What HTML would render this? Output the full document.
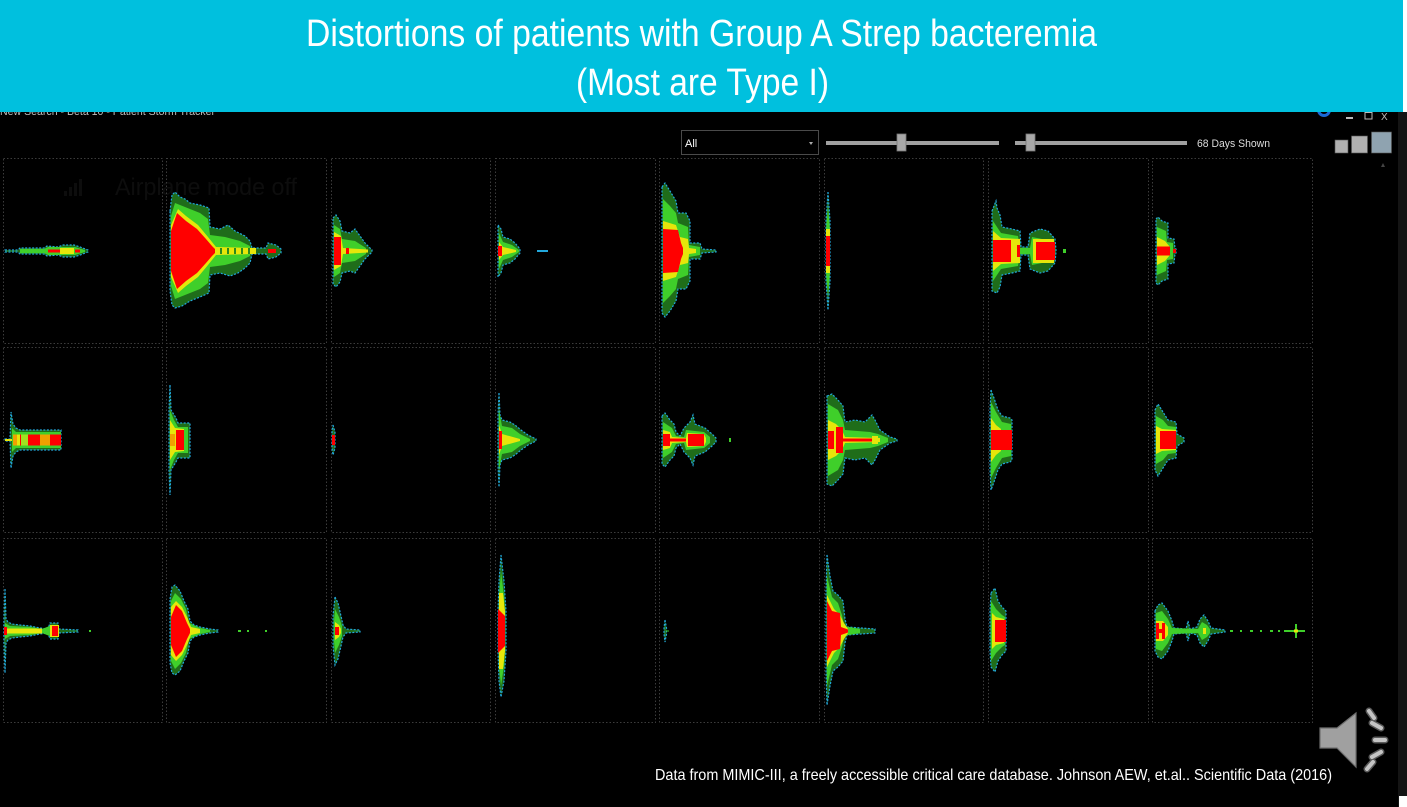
<!DOCTYPE html>
<html>
<head>
<meta charset="utf-8">
<style>
html,body{margin:0;padding:0;background:#000;}
svg{display:block;}
.o{fill:#1f6d1a;stroke:#22a8dc;stroke-width:1.2;stroke-dasharray:2 1.5;}
.m{fill:#3fcf2a;}
.y{fill:#e6e60a;}
.r{fill:#ff0000;}
.or{fill:#f0a000;}
.cell{fill:none;stroke:#3c3c3c;stroke-width:1;stroke-dasharray:1.5 2;}
text{font-family:"Liberation Sans",Arial,sans-serif;}
</style>
</head>
<body>
<svg width="1407" height="807" viewBox="0 0 1407 807" xmlns="http://www.w3.org/2000/svg">
<rect x="0" y="0" width="1407" height="807" fill="#000"/>
<rect x="1398" y="112" width="9" height="695" fill="#141414"/>
<rect x="1399" y="796" width="8" height="11" fill="#fff"/>

<text x="0" y="115" font-size="11" fill="#bdbdbd" textLength="215" lengthAdjust="spacingAndGlyphs">New Search - Beta 10 - Patient Storm Tracker</text>
<circle cx="1324" cy="110" r="5.5" fill="none" stroke="#1a6ad6" stroke-width="3"/>
<rect x="1346" y="117" width="7" height="2" fill="#bbb"/>
<rect x="1365" y="112.5" width="7" height="6.5" fill="none" stroke="#bbb" stroke-width="1"/>
<text x="1381" y="120" font-size="10" fill="#bbb">X</text>

<rect x="0" y="0" width="1403" height="112" fill="#00c0de"/>
<rect x="1403" y="0" width="4" height="112" fill="#fff"/>
<text x="701.5" y="46" font-size="38" fill="#fff" text-anchor="middle" textLength="791" lengthAdjust="spacingAndGlyphs">Distortions of patients with Group A Strep bacteremia</text>
<text x="702.5" y="95" font-size="38" fill="#fff" text-anchor="middle" textLength="253" lengthAdjust="spacingAndGlyphs">(Most are Type I)</text>

<rect x="681.5" y="130.5" width="137" height="24" fill="#000" stroke="#4a4a4a" stroke-width="1"/>
<text x="685" y="147" font-size="11" fill="#fff">All</text>
<path d="M809,142 L813,142 L811,145 Z" fill="#aaa"/>
<rect x="826" y="141" width="173" height="4" fill="#a0a0a0"/>
<rect x="897" y="134" width="9" height="17" fill="#a8a8a8" stroke="#777" stroke-width="0.8"/>
<rect x="1015" y="141" width="172" height="4" fill="#a0a0a0"/>
<rect x="1026" y="134" width="9" height="17" fill="#a8a8a8" stroke="#777" stroke-width="0.8"/>
<text x="1197" y="147" font-size="11" fill="#dcdcdc" textLength="73" lengthAdjust="spacingAndGlyphs">68 Days Shown</text>
<rect x="1335" y="140" width="13" height="13" fill="#b0b0b0" stroke="#555" stroke-width="0.6"/>
<rect x="1351.5" y="136" width="16" height="17" fill="#b0b0b0" stroke="#555" stroke-width="0.6"/>
<rect x="1371.5" y="132" width="20" height="21" fill="#8fa3b0" stroke="#555" stroke-width="0.6"/>
<path d="M1381,167 L1385,167 L1383,163 Z" fill="#444"/>

<g fill="#0d0d0d">
<rect x="64" y="191" width="3" height="5"/><rect x="69" y="187" width="3" height="9"/><rect x="74" y="183" width="3" height="13"/><rect x="79" y="179" width="3" height="17"/>
</g>
<text x="115" y="195" font-size="24" fill="#0d0d0d" textLength="182" lengthAdjust="spacingAndGlyphs">Airplane mode off</text>

<g class="cell">
<rect x="3.5" y="158.5" width="159" height="185"/><rect x="166.5" y="158.5" width="160" height="185"/><rect x="331.5" y="158.5" width="159" height="185"/><rect x="495.5" y="158.5" width="160" height="185"/><rect x="659.5" y="158.5" width="160" height="185"/><rect x="824.5" y="158.5" width="159" height="185"/><rect x="988.5" y="158.5" width="160" height="185"/><rect x="1152.5" y="158.5" width="160" height="185"/>
<rect x="3.5" y="347.5" width="159" height="185"/><rect x="166.5" y="347.5" width="160" height="185"/><rect x="331.5" y="347.5" width="159" height="185"/><rect x="495.5" y="347.5" width="160" height="185"/><rect x="659.5" y="347.5" width="160" height="185"/><rect x="824.5" y="347.5" width="159" height="185"/><rect x="988.5" y="347.5" width="160" height="185"/><rect x="1152.5" y="347.5" width="160" height="185"/>
<rect x="3.5" y="538.5" width="159" height="184"/><rect x="166.5" y="538.5" width="160" height="184"/><rect x="331.5" y="538.5" width="159" height="184"/><rect x="495.5" y="538.5" width="160" height="184"/><rect x="659.5" y="538.5" width="160" height="184"/><rect x="824.5" y="538.5" width="159" height="184"/><rect x="988.5" y="538.5" width="160" height="184"/><rect x="1152.5" y="538.5" width="160" height="184"/>
</g>

<g transform="translate(0,251)">
<path class="o" d="M5,-1 L18,-1 L20,-3 L44,-3 L47,-5 L58,-4 L63,-6 L74,-6 L80,-4 L88,-1 L88,1 L80,4 L74,6 L63,6 L58,4 L47,5 L44,3 L20,3 L18,1 L5,1Z"/>
<path class="m" d="M20,-2 L44,-2 L48,-4 L75,-4 L85,-1 L85,1 L75,4 L48,4 L44,2 L20,2Z"/>
<rect class="y" x="60" y="-3" width="14" height="6"/>
<rect class="r" x="48" y="-1.5" width="12" height="3"/>
<rect class="r" x="75" y="-1.5" width="5" height="3"/>
<path class="o" d="M170,-40 L172,-56 L175,-59 L180,-54 L185,-52 L190,-48 L200,-46 L209,-43 L210,-24 L220,-22 L228,-26 L235,-20 L245,-15 L250,-10 L252,-3 L266,-3 L268,-8 L276,-6 L281,-2 L281,2 L276,6 L268,8 L266,3 L252,3 L250,12 L245,17 L238,22 L230,25 L220,22 L210,24 L209,42 L200,46 L190,50 L182,55 L175,57 L172,54 L170,40Z"/>
<path class="m" d="M171,-35 L175,-48 L185,-44 L200,-38 L208,-32 L210,-16 L225,-14 L240,-10 L250,-5 L250,5 L240,10 L225,14 L210,16 L208,32 L200,38 L185,44 L175,48 L171,35Z"/>
<path class="y" d="M171,-26 L178,-42 L186,-35 L198,-26 L208,-14 L216,-4 L256,-3 L256,3 L216,4 L208,14 L198,26 L186,35 L178,42 L171,26Z"/>
<g fill="#2a8a1e"><rect x="220" y="-3" width="2" height="6"/><rect x="227" y="-3" width="2" height="6"/><rect x="234" y="-3" width="2" height="6"/><rect x="241" y="-3" width="2" height="6"/><rect x="248" y="-3" width="2" height="6"/></g>
<path class="r" d="M171,-20 L177,-38 L186,-30 L197,-22 L206,-12 L212,-5 L215,-2 L215,2 L212,5 L206,12 L197,22 L186,30 L177,38 L171,20Z"/>
<rect class="r" x="268" y="-2" width="8" height="4"/>
<path class="o" d="M333,-33 L336,-36 L340,-30 L342,-20 L350,-18 L355,-22 L360,-15 L365,-8 L372,-1 L372,1 L365,8 L360,15 L355,22 L350,20 L342,22 L340,31 L336,36 L333,33Z"/>
<path class="m" d="M334,-26 L340,-22 L342,-12 L355,-10 L366,-3 L366,3 L355,10 L342,12 L340,22 L334,26Z"/>
<path class="y" d="M334,-19 L341,-15 L343,-3 L368,-1.5 L368,1.5 L343,3 L341,15 L334,19Z"/>
<rect class="r" x="334" y="-14" width="7" height="28"/>
<rect class="r" x="346" y="-3" width="3" height="6"/>
<path class="o" d="M498,-26 L501,-22 L503,-14 L510,-12 L515,-8 L520,-2 L520,2 L515,8 L510,12 L503,14 L501,22 L498,26Z"/>
<path class="m" d="M499,-18 L503,-9 L512,-6 L519,-1 L519,1 L512,6 L503,9 L499,18Z"/>
<path class="y" d="M499,-9 L503,-4 L516,-1 L516,1 L503,4 L499,9Z"/>
<rect class="r" x="498" y="-5" width="4" height="10"/>
<rect x="537" y="-1" width="11" height="2" fill="#22a8dc"/>
<path class="o" d="M662,-64 L665,-68 L670,-60 L676,-50 L678,-38 L686,-38 L690,-30 L690,-8 L700,-8 L702,-2 L716,-1 L716,1 L702,2 L700,8 L690,8 L690,30 L686,38 L678,38 L676,50 L670,60 L665,66 L662,62Z"/>
<path class="m" d="M663,-52 L670,-45 L676,-38 L678,-28 L688,-24 L689,-6 L700,-4 L700,4 L689,6 L688,24 L678,28 L676,38 L670,45 L663,52Z"/>
<path class="y" d="M663,-30 L676,-26 L680,-14 L688,-12 L689,-3 L696,-2 L696,2 L689,3 L688,12 L680,14 L676,26 L663,30Z"/>
<path class="r" d="M663,-22 L678,-21 L681,-8 L683,-3 L683,3 L681,8 L678,21 L663,22Z"/>
<path class="o" d="M828,-59 L830,-30 L830,30 L828,59 L826,30 L826,-30Z"/>
<path class="m" d="M828,-45 L830,-20 L830,20 L828,45 L826,20 L826,-20Z"/>
<rect class="y" x="826" y="-22" width="4" height="44"/>
<rect class="r" x="826" y="-15" width="4" height="30"/>
<path class="o" d="M992,-40 L996,-50 L997,-43 L1000,-36 L1002,-24 L1012,-22 L1020,-20 L1021,-4 L1028,-4 L1030,-18 L1040,-22 L1048,-20 L1055,-12 L1056,-1 L1056,1 L1055,12 L1048,20 L1040,22 L1030,18 L1028,4 L1021,4 L1020,20 L1012,22 L1002,24 L1000,36 L997,42 L992,40Z"/>
<path class="m" d="M993,-30 L1001,-18 L1018,-15 L1020,-3 L1030,-3 L1032,-14 L1052,-10 L1052,10 L1032,14 L1030,3 L1020,3 L1018,15 L1001,18 L993,30Z"/>
<path class="y" d="M993,-20 L1001,-13 L1020,-12 L1020,12 L1001,13 L993,20Z"/>
<rect class="y" x="1033" y="-12" width="21" height="24"/>
<rect class="r" x="993" y="-11" width="18" height="22"/>
<rect class="y" x="1011" y="-10" width="6" height="20"/>
<rect class="r" x="1017" y="-6" width="3" height="12"/>
<rect class="r" x="1036" y="-9" width="19" height="18"/>
<rect class="m" x="1063" y="-2" width="3" height="4"/>
<path class="o" d="M1156,-32 L1158,-34 L1162,-30 L1168,-28 L1168,-13 L1174,-12 L1175,-3 L1176,-2 L1176,2 L1175,3 L1174,12 L1168,13 L1168,28 L1162,30 L1158,34 L1156,32Z"/>
<path class="m" d="M1157,-24 L1166,-20 L1167,-9 L1173,-8 L1173,8 L1167,9 L1166,20 L1157,24Z"/>
<path class="y" d="M1157,-14 L1165,-10 L1170,-4 L1170,4 L1165,10 L1157,14Z"/>
<rect class="r" x="1157" y="-4.5" width="13" height="9"/>
<rect class="r" x="1173" y="-2" width="3" height="4"/>
</g>

<g transform="translate(0,440)">
<path class="o" d="M5,-1 L10,-1 L11,-28 L13,-16 L16,-12 L20,-10 L61,-10 L61,10 L20,10 L16,12 L13,16 L11,28 L10,1 L5,1Z"/>
<path class="m" d="M12,-12 L16,-8 L61,-8 L61,8 L16,8 L12,12Z"/>
<rect class="y" x="5" y="-1" width="7" height="2"/>
<rect class="r" x="13" y="-5.5" width="48" height="11"/>
<rect class="or" x="13" y="-5.5" width="4" height="11"/>
<rect class="y" x="17" y="-5.5" width="3" height="11"/>
<rect fill="#a0e020" x="21" y="-5.5" width="7" height="11"/>
<rect class="or" x="40" y="-5.5" width="10" height="11"/>
<path class="o" d="M170,-55 L171,-30 L176,-22 L178,-17 L190,-17 L190,18 L178,18 L176,22 L171,30 L170,55 L169,30 L169,-30Z"/>
<path class="m" d="M170,-30 L174,-20 L178,-13 L188,-13 L188,13 L178,13 L174,20 L170,30Z"/>
<path class="y" d="M170,-20 L175,-12 L184,-11 L184,11 L175,12 L170,20Z"/>
<rect class="or" x="170" y="-6" width="5" height="12"/>
<rect class="r" x="176" y="-10" width="8" height="20"/>
<path class="o" d="M333,-15 L335,-8 L335,8 L333,15 L332,8 L332,-8Z"/>
<rect class="r" x="332" y="-5" width="3" height="10"/>
<path class="o" d="M499,-47 L500,-25 L502,-20 L510,-18 L515,-15 L521,-10 L528,-5 L536,-1 L536,1 L528,5 L521,10 L515,15 L510,18 L502,20 L500,25 L499,47 L498,25 L498,-25Z"/>
<path class="m" d="M499,-30 L502,-14 L512,-12 L520,-6 L530,-1 L530,1 L520,6 L512,12 L502,14 L499,30Z"/>
<path class="y" d="M499,-15 L502,-6 L520,-1 L520,1 L502,6 L499,15Z"/>
<rect class="r" x="499" y="-9" width="3" height="18"/>
<path class="o" d="M662,-24 L665,-27 L670,-20 L674,-16 L676,-8 L680,-4 L684,-12 L690,-18 L693,-25 L695,-16 L705,-12 L712,-6 L716,-2 L716,2 L712,6 L705,12 L695,16 L693,25 L690,18 L684,12 L680,4 L676,8 L674,16 L670,20 L665,27 L662,24Z"/>
<path class="m" d="M663,-18 L672,-12 L676,-4 L684,-3 L686,-10 L704,-8 L710,-3 L710,3 L704,8 L686,10 L684,3 L676,4 L672,12 L663,18Z"/>
<path class="y" d="M663,-10 L670,-8 L672,-3 L686,-2 L687,-7 L704,-6 L706,-2 L706,2 L704,6 L687,7 L686,2 L672,3 L670,8 L663,10Z"/>
<rect class="r" x="663" y="-6" width="7" height="12"/>
<rect class="r" x="670" y="-1.5" width="16" height="3"/>
<rect class="r" x="688" y="-6" width="16" height="12"/>
<rect class="m" x="729" y="-2" width="2" height="4"/>
<path class="o" d="M827,-44 L832,-46 L838,-40 L843,-34 L845,-18 L855,-20 L865,-18 L872,-25 L875,-20 L880,-10 L890,-3 L897,-1 L897,1 L890,3 L880,10 L875,20 L872,25 L865,18 L855,20 L845,18 L843,34 L838,40 L832,46 L827,44Z"/>
<path class="m" d="M828,-36 L838,-30 L843,-20 L845,-10 L870,-8 L878,-6 L888,-2 L888,2 L878,6 L870,8 L845,10 L843,20 L838,30 L828,36Z"/>
<path class="y" d="M828,-20 L836,-16 L842,-10 L845,-3 L880,-2 L880,2 L845,3 L842,10 L836,16 L828,20Z"/>
<rect class="r" x="828" y="-9" width="6" height="18"/>
<rect class="r" x="836" y="-13" width="7" height="26"/>
<rect class="r" x="843" y="-1.5" width="33" height="3"/>
<rect class="y" x="872" y="-4" width="6" height="8"/>
<path class="o" d="M991,-50 L994,-42 L998,-30 L1002,-24 L1010,-22 L1012,-20 L1012,20 L1010,22 L1002,24 L998,30 L994,42 L991,50 L990,30 L990,-30Z"/>
<path class="m" d="M991,-38 L996,-28 L1002,-18 L1011,-16 L1011,16 L1002,18 L996,28 L991,38Z"/>
<path class="y" d="M991,-22 L996,-15 L1001,-11 L1001,11 L996,15 L991,22Z"/>
<rect class="r" x="991" y="-10" width="21" height="20"/>
<path class="o" d="M1155,-30 L1158,-36 L1163,-28 L1168,-20 L1176,-18 L1177,-6 L1184,-2 L1184,2 L1177,6 L1176,18 L1168,20 L1163,28 L1158,36 L1155,30Z"/>
<path class="m" d="M1156,-24 L1163,-20 L1168,-14 L1176,-13 L1176,13 L1168,14 L1163,20 L1156,24Z"/>
<path class="y" d="M1156,-14 L1162,-11 L1176,-10 L1176,10 L1162,11 L1156,14Z"/>
<rect class="r" x="1160" y="-9" width="16" height="18"/>
</g>

<g transform="translate(0,631)">
<path class="o" d="M5,-42 L6,-12 L8,-9 L12,-7 L20,-6 L30,-5 L40,-3 L48,-2 L50,-8 L58,-8 L59,-2 L78,-1 L78,1 L59,2 L58,8 L50,8 L48,2 L40,3 L30,5 L20,6 L12,7 L8,9 L6,12 L5,42 L4,12 L4,-12Z"/>
<path class="m" d="M5,-8 L10,-5 L30,-4 L42,-2 L52,-6 L58,-6 L58,6 L52,6 L42,2 L30,4 L10,5 L5,8Z"/>
<rect class="y" x="5" y="-2.5" width="37" height="5"/>
<rect class="y" x="50" y="-6" width="9" height="12"/>
<rect class="r" x="52" y="-5" width="6" height="10"/>
<rect class="r" x="4" y="-4" width="3" height="8"/>
<rect class="m" x="89" y="-1" width="2" height="2"/>
<path class="o" d="M170,-32 L172,-44 L175,-46 L180,-40 L184,-30 L188,-22 L190,-10 L194,-6 L200,-4 L210,-2 L218,-1 L218,1 L210,2 L200,4 L194,6 L190,10 L188,22 L184,30 L180,40 L175,44 L172,42 L170,32Z"/>
<path class="m" d="M171,-30 L175,-38 L181,-32 L186,-22 L189,-8 L200,-3 L210,-1 L210,1 L200,3 L189,8 L186,22 L181,32 L175,38 L171,30Z"/>
<path class="y" d="M171,-24 L176,-30 L182,-24 L188,-12 L191,-4 L200,-2 L200,2 L191,4 L188,12 L182,24 L176,30 L171,24Z"/>
<path class="r" d="M171,-14 L176,-26 L182,-20 L187,-8 L190,-2 L190,2 L187,8 L182,20 L176,26 L171,14Z"/>
<g class="m"><rect x="238" y="-1" width="3" height="2"/><rect x="247" y="-1" width="2" height="2"/><rect x="265" y="-1" width="2" height="2"/></g>
<path class="o" d="M335,-34 L338,-28 L341,-15 L343,-6 L346,-2 L360,-1 L360,1 L346,2 L343,6 L341,15 L338,28 L335,34 L333,15 L333,-15Z"/>
<path class="m" d="M335,-22 L339,-14 L342,-5 L342,5 L339,14 L335,22 L334,10 L334,-10Z"/>
<path class="y" d="M335,-9 L339,-6 L341,-2 L341,2 L339,6 L335,9Z"/>
<rect class="r" x="335" y="-4" width="4" height="8"/>
<path class="o" d="M501,-76 L504,-50 L506,-20 L506,20 L504,50 L501,66 L499,50 L498,20 L498,-20 L499,-50Z"/>
<path class="m" d="M501,-60 L504,-35 L505,-15 L505,15 L504,35 L501,55 L499,35 L499,-35Z"/>
<path class="y" d="M499,-38 L503,-38 L505,-20 L505,20 L503,38 L499,38Z"/>
<path class="r" d="M498,-22 L505,-15 L505,15 L498,22Z"/>
<path class="o" d="M665,-11 L666.5,-3 L666.5,3 L665,11 L664,3 L664,-3Z"/>
<rect class="m" x="666" y="-0.5" width="3" height="1"/>
<path class="o" d="M827,-76 L830,-55 L833,-40 L838,-36 L843,-30 L845,-12 L847,-4 L875,-2 L875,2 L847,4 L845,12 L843,30 L838,36 L833,40 L830,55 L827,74 L826,40 L826,-40Z"/>
<path class="m" d="M827,-55 L832,-34 L838,-28 L842,-16 L844,-5 L860,-2 L860,2 L844,5 L842,16 L838,28 L832,34 L827,55Z"/>
<path class="y" d="M827,-36 L834,-22 L840,-16 L844,-8 L848,-2 L848,2 L844,8 L840,16 L834,22 L827,36Z"/>
<path class="r" d="M827,-30 L832,-20 L840,-18 L841,-4 L848,-1.5 L848,1.5 L841,4 L840,18 L832,20 L827,30Z"/>
<path class="o" d="M991,-38 L995,-43 L998,-30 L1002,-24 L1006,-20 L1006,20 L1002,24 L998,30 L995,41 L991,36 L990,20 L990,-20Z"/>
<path class="m" d="M991,-30 L996,-22 L1002,-16 L1005,-14 L1005,14 L1002,16 L996,22 L991,30Z"/>
<path class="y" d="M992,-18 L996,-14 L1004,-12 L1004,12 L996,14 L992,18Z"/>
<rect class="r" x="995" y="-11" width="11" height="22"/>
<path class="o" d="M1155,-20 L1158,-26 L1162,-28 L1168,-20 L1172,-10 L1174,-3 L1186,-2 L1188,-10 L1190,-2 L1197,-4 L1200,-12 L1204,-16 L1208,-10 L1211,-3 L1225,-1 L1225,1 L1211,3 L1208,10 L1204,16 L1200,12 L1197,4 L1190,2 L1188,10 L1186,2 L1174,3 L1172,10 L1168,20 L1162,28 L1158,26 L1155,20Z"/>
<path class="m" d="M1156,-18 L1162,-20 L1168,-12 L1172,-3 L1198,-2 L1202,-9 L1207,-6 L1210,-2 L1210,2 L1207,6 L1202,9 L1198,2 L1172,3 L1168,12 L1162,20 L1156,18Z"/>
<path class="y" d="M1156,-10 L1163,-10 L1168,-4 L1168,4 L1163,10 L1156,10Z"/>
<rect class="y" x="1203" y="-3" width="3" height="6"/>
<rect class="r" x="1156" y="-8" width="3" height="16"/>
<rect class="r" x="1162" y="-8" width="3" height="16"/>
<rect class="r" x="1159" y="-2" width="3" height="4"/>
<g class="m"><rect x="1230" y="-1" width="3" height="2"/><rect x="1240" y="-1" width="2" height="2"/><rect x="1250" y="-1" width="3" height="2"/><rect x="1260" y="-1" width="2" height="2"/><rect x="1270" y="-1" width="3" height="2"/><rect x="1278" y="-1" width="2" height="2"/></g>
<rect class="m" x="1284" y="-1" width="21" height="2"/>
<rect class="m" x="1295" y="-7" width="2" height="14"/>
<rect class="y" x="1294" y="-1.5" width="4" height="3"/>
</g>

<g>
<path d="M1320,728 L1337,728 L1356,713 L1356,767 L1337,748 L1320,748 Z" fill="#a0a0a0" stroke="#6f6f6f" stroke-width="1.2"/>
<g stroke-linecap="round" fill="none">
<g stroke="#5a5a5a" stroke-width="7">
<line x1="1369" y1="711" x2="1374" y2="718"/>
<line x1="1372" y1="723" x2="1381" y2="728"/>
<line x1="1375" y1="740" x2="1385" y2="740"/>
<line x1="1372" y1="757" x2="1381" y2="752"/>
<line x1="1367" y1="769" x2="1373" y2="762"/>
</g>
<g stroke="#c4c4c4" stroke-width="4">
<line x1="1369" y1="711" x2="1374" y2="718"/>
<line x1="1372" y1="723" x2="1381" y2="728"/>
<line x1="1375" y1="740" x2="1385" y2="740"/>
<line x1="1372" y1="757" x2="1381" y2="752"/>
<line x1="1367" y1="769" x2="1373" y2="762"/>
</g>
</g>
</g>

<text x="655" y="780" font-size="16" fill="#fff" textLength="677" lengthAdjust="spacingAndGlyphs">Data from MIMIC-III,  a freely accessible critical care database.  Johnson AEW, et.al.. Scientific Data (2016)</text>
</svg>
</body>
</html>
